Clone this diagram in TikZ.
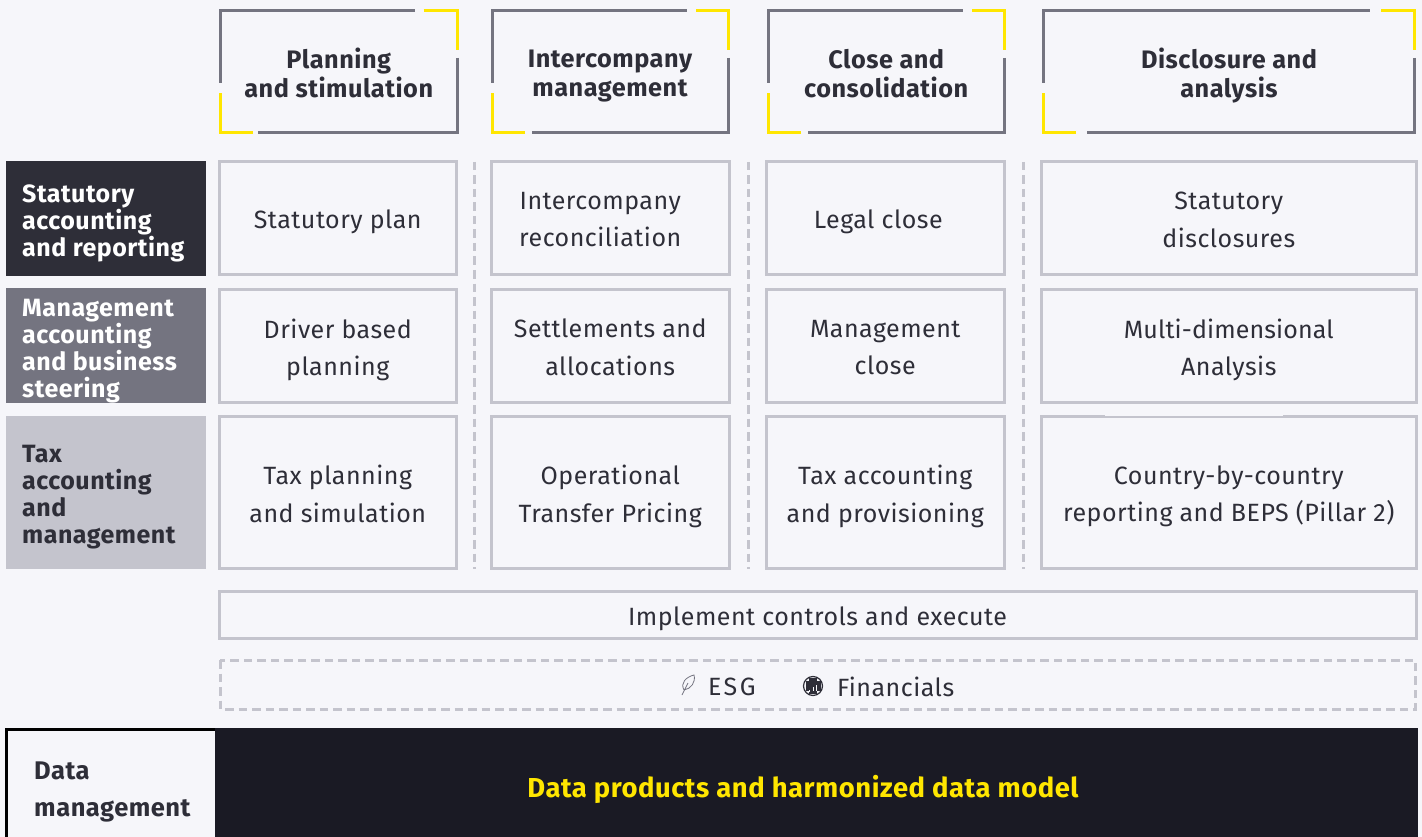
\documentclass[tikz,border=0pt]{standalone}
\usepackage{fontspec}
\setmainfont{Fira Sans}[LetterSpace=2]
\usepackage{tikz}

\definecolor{pagebg}{HTML}{F6F6FA}
\definecolor{eyyellow}{HTML}{FFE600}
\definecolor{eydark}{HTML}{2E2E38}
\definecolor{eygrey}{HTML}{747480}
\definecolor{eylight}{HTML}{C4C4CD}
\definecolor{eyband}{HTML}{1A1A24}

\tikzset{
	cellbox/.style={draw=eylight, line width=3},
	celltext/.style={pos=.5, yshift=-4.5, align=center, color=eydark, text depth=6, font=\fontsize{25}{37.5}\selectfont},
	stripfont/.style={anchor=west, color=eydark, text depth=6, font=\fontsize{25}{37.5}\selectfont},
	headtext/.style={pos=.5, yshift=-4.5, align=center, color=eydark, text depth=6, font=\fontsize{25.3}{29}\selectfont\bfseries},
	sidetext/.style={anchor=west, align=left, color=white, text depth=6, font=\fontsize{25}{27}\selectfont\bfseries},
	greyline/.style={color=eygrey, line width=3},
	yellowline/.style={color=eyyellow, line width=3},
	gapline/.style={color=eylight, line width=3, dash pattern=on 8.5 off 5},
}

\begin{document}
\begin{tikzpicture}[x=1pt, y=-1pt]
	\fill [color=pagebg] (0, 0) rectangle (1422, 837);
	\useasboundingbox (0, 0) rectangle (1422, 837);
	
	% column heads: left, right, end of grey top, start of yellow top, end of yellow bottom, start of grey bottom
	\foreach \xa/\xb/\xc/\xd/\xe/\xf/\name/\txt in {
		220.5/457/415/423.5/253/258/headplan/{Planning\\and stimulation},
		492/728/687/696/525/532/headinter/{Intercompany\\management},
		768.5/1004/963/972/801/808/headclose/{Close and\\consolidation},
		1043.5/1414.5/1370/1381/1076/1087/headdisc/{Disclosure and\\analysis}} {
		\draw [greyline] (\xa, 83) -- (\xa, 10.5) -- (\xc, 10.5);
		\draw [yellowline] (\xd, 10.5) -- (\xb, 10.5) -- (\xb, 50);
		\draw [greyline] (\xb, 58) -- (\xb, 132.5) -- (\xf, 132.5);
		\draw [yellowline] (\xe, 132.5) -- (\xa, 132.5) -- (\xa, 93);
		\path (\xa, 11) rectangle (\xb, 132) node (\name) [headtext] {\txt};
	}
	
	% row labels
	\fill [color=eydark] (6, 161) rectangle (206, 276);
	\node (sidestat) [sidetext] at (18.7, 224) {Statutory\\accounting\\and reporting};
	\fill [color=eygrey] (6, 288) rectangle (206, 403);
	\node (sidemgmt) [sidetext] at (18.7, 351) {Management\\accounting\\and business\\steering};
	\fill [color=eylight] (6, 416) rectangle (206, 569);
	\node (sidetax) [sidetext, color=eydark] at (18.7, 497.5) {Tax\\accounting\\and\\management};
	
	% first row
	\draw [cellbox] (219, 161.5) rectangle (456.5, 274.5) node (statplan) [celltext] {Statutory plan};
	\draw [cellbox] (491.5, 161.5) rectangle (729, 274.5) node (statinter) [celltext, xshift=-10] {Intercompany\\reconciliation};
	\draw [cellbox] (766.5, 161.5) rectangle (1004, 274.5) node (statclose) [celltext, xshift=-7] {Legal close};
	\draw [cellbox] (1041.5, 161.5) rectangle (1416, 274.5) node (statdisc) [celltext] {Statutory\\disclosures};
	
	% second row
	\draw [cellbox] (219, 289) rectangle (456.5, 402.5) node (mgmtplan) [celltext] {Driver based\\planning};
	\draw [cellbox] (491.5, 289) rectangle (729, 402.5) node (mgmtinter) [celltext] {Settlements and\\allocations};
	\draw [cellbox] (766.5, 289) rectangle (1004, 402.5) node (mgmtclose) [celltext] {Management\\close};
	\draw [cellbox] (1041.5, 289) rectangle (1416, 402.5) node (mgmtdisc) [celltext] {\addfontfeature{LetterSpace=0.5}Multi-dimensional\\Analysis};
	
	% third row
	\draw [cellbox] (219, 416.5) rectangle (456.5, 568) node (taxplan) [celltext] {Tax planning\\and simulation};
	\draw [cellbox] (491.5, 416.5) rectangle (729, 568) node (taxinter) [celltext] {Operational\\Transfer Pricing};
	\draw [cellbox] (766.5, 416.5) rectangle (1004, 568) node (taxclose) [celltext] {Tax accounting\\and provisioning};
	\draw [cellbox] (1041.5, 416.5) rectangle (1416, 568) node (taxdisc) [celltext] {Country-by-country\\reporting and BEPS (Pillar 2)};
	\draw [color=pagebg, line width=1.5] (1105, 415.5) -- (1283, 415.5);
	
	% dashed lines between the columns
	\foreach \x in {474.5, 748.5, 1023.5} {
		\draw [gapline] (\x, 162) -- (\x, 569);
	}
	
	% controls and the dashed strip
	\draw [cellbox] (219, 591) rectangle (1416, 638) node (controls) [celltext] {Implement controls and execute};
	\draw [gapline] (220, 660) rectangle (1415.5, 709);
	\node (esg) [stripfont] at (704.5, 690) {\addfontfeature{LetterSpace=10}ESG};
	\node (fin) [stripfont] at (833.5, 690) {Financials};
	
	% leaf
	\draw [color=eygrey, line width=.8] (682, 695) -- (688, 683)
	(684, 690) .. controls (680, 683) and (686, 677) .. (694, 675) .. controls (696, 682) and (691, 689) .. (684, 690);
	% globe
	\draw [color=eydark, line width=1.2] (813, 686) circle (9.5);
	\fill [color=eydark] (805.5, 681) rectangle (820.5, 691);
	\fill [color=eydark] (809, 678) rectangle (817, 694);
	\draw [color=pagebg, line width=1] (809, 690) -- (809, 692) (813, 687) -- (813, 691) (816, 685) -- (816, 691);
	
	% data band
	\fill [color=eyband] (5, 728) rectangle (1417.7, 837);
	\draw [color=black, line width=3] (6.5, 837) -- (6.5, 729.5) -- (215, 729.5);
	\fill [color=pagebg] (8, 731) rectangle (215, 837);
	\node (datamgmt) [anchor=west, align=left, color=eydark, text depth=6, font=\fontsize{25.5}{37.5}\selectfont\bfseries] at (30.7, 792) {Data\\management};
	\node (dataprod) [color=eyyellow, text depth=6, font=\fontsize{27.4}{30}\selectfont\bfseries] at (803, 789.5) {Data products and harmonized data model};
\end{tikzpicture}
\end{document}
